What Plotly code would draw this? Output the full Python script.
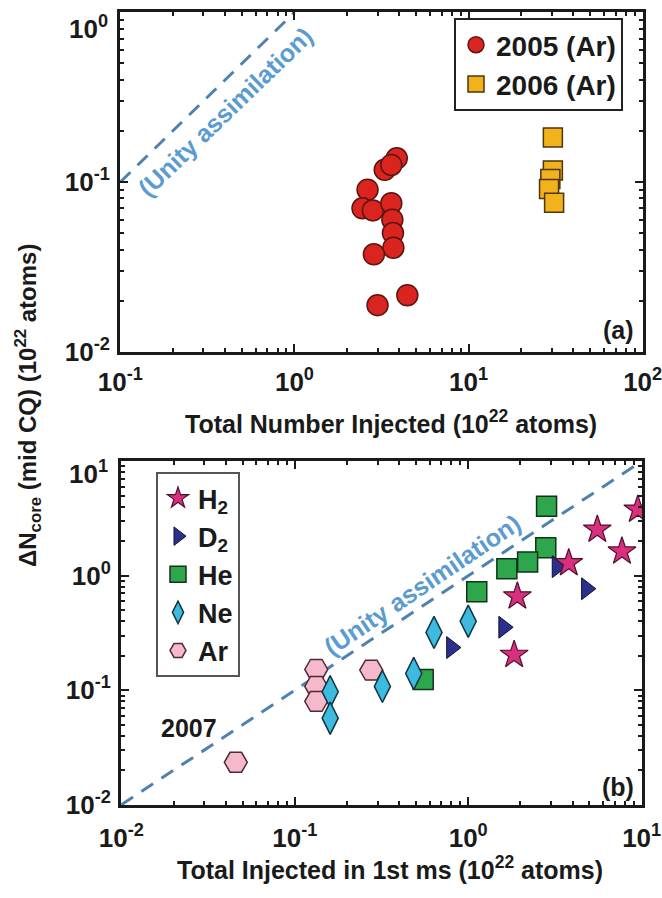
import plotly.graph_objects as go

# ---- data -------------------------------------------------------------
# (a) total number injected vs. core assimilation
ar2005_x = [3.87, 3.3, 3.6, 2.63, 2.46, 2.82, 3.6, 3.65, 3.68, 3.7, 2.86, 3.0, 4.45]
ar2005_y = [0.138, 0.118, 0.126, 0.090, 0.070, 0.068, 0.075, 0.060, 0.050, 0.041, 0.0375, 0.0188, 0.0215]
ar2006_x = [30.5, 30.5, 29.5, 29.0, 31.0]
ar2006_y = [0.183, 0.117, 0.104, 0.091, 0.0755]

# (b) injected in 1st ms vs. core assimilation (2007)
h2_x = [9.5, 5.55, 7.7, 3.8, 1.92, 1.84]
h2_y = [3.78, 2.53, 1.63, 1.29, 0.66, 0.204]
d2_x = [3.25, 4.8, 1.6, 0.80]
d2_y = [1.2, 0.77, 0.355, 0.236]
he_x = [2.83, 2.8, 2.2, 1.67, 1.12, 0.55]
he_y = [4.05, 1.76, 1.32, 1.15, 0.725, 0.124]
ne_x = [1.0, 0.635, 0.485, 0.32, 0.16, 0.16]
ne_y = [0.40, 0.32, 0.14, 0.108, 0.097, 0.057]
ar_x = [0.133, 0.133, 0.133, 0.276, 0.0457]
ar_y = [0.152, 0.108, 0.080, 0.15, 0.0235]

# unity-assimilation reference (delta N = N injected)
unity_a = [0.1, 1.0]
unity_b = [0.01, 9.0]

tick_a_x = [0.1, 1, 10, 100]
tick_a_x_text = ["10<sup>-1</sup>", "10<sup>0</sup>", "10<sup>1</sup>", "10<sup>2</sup>"]
tick_a_y = [0.01, 0.1, 1]
tick_a_y_text = ["10<sup>-2</sup>", "10<sup>-1</sup>", "10<sup>0</sup>"]
tick_b = [0.01, 0.1, 1, 10]
tick_b_text = ["10<sup>-2</sup>", "10<sup>-1</sup>", "10<sup>0</sup>", "10<sup>1</sup>"]

# ---- layout helpers ---------------------------------------------------
W, H = 662, 898
FONT = "Liberation Sans Narrow, Arial Narrow, Liberation Sans, Arial, sans-serif"
INK = "#1a1a1a"
UNITY_LINE = "#4f81b0"
UNITY_TEXT = "#5a9bd0"
EPS = 0.002  # keeps the edge decades inside the axis range


def px(x):
    return x / W


def py(y):
    return 1 - y / H


def minor_vals(lo, hi):
    vals = []
    for e in range(lo, hi):
        for m in range(2, 10):
            vals.append(m * 10.0 ** e)
    return vals


fig = go.Figure()

# ---- panel (a) --------------------------------------------------------
fig.add_trace(go.Scatter(
    x=unity_a, y=unity_a, mode="lines", xaxis="x", yaxis="y",
    line=dict(color=UNITY_LINE, width=3, dash="14px,10px"),
    showlegend=False, hoverinfo="skip"))
fig.add_trace(go.Scatter(
    x=ar2005_x, y=ar2005_y, mode="markers", name="2005 (Ar)",
    xaxis="x", yaxis="y", legend="legend",
    marker=dict(symbol="circle", size=21, color="#d9241f",
                line=dict(color="#5e1511", width=1.5))))
fig.add_trace(go.Scatter(
    x=ar2006_x, y=ar2006_y, mode="markers", name="2006 (Ar)",
    xaxis="x", yaxis="y", legend="legend",
    marker=dict(symbol="square", size=19, color="#f2b21e",
                line=dict(color="#4d3608", width=1.5))))

# ---- panel (b) --------------------------------------------------------
fig.add_trace(go.Scatter(
    x=unity_b, y=unity_b, mode="lines", xaxis="x2", yaxis="y2",
    line=dict(color=UNITY_LINE, width=3, dash="14px,10px"),
    showlegend=False, hoverinfo="skip"))
fig.add_trace(go.Scatter(
    x=ar_x, y=ar_y, mode="markers", name="Ar", legendrank=5,
    xaxis="x2", yaxis="y2", legend="legend2",
    marker=dict(symbol="hexagon2", size=23, color="#f6b9cb",
                line=dict(color="#4e2a36", width=1.5))))
fig.add_trace(go.Scatter(
    x=he_x, y=he_y, mode="markers", name="He", legendrank=3,
    xaxis="x2", yaxis="y2", legend="legend2",
    marker=dict(symbol="square", size=20, color="#2ea64b",
                line=dict(color="#0e3518", width=1.5))))
fig.add_trace(go.Scatter(
    x=ne_x, y=ne_y, mode="markers", name="Ne", legendrank=4,
    xaxis="x2", yaxis="y2", legend="legend2",
    marker=dict(symbol="diamond-tall", size=23, color="#3dbade",
                line=dict(color="#0c3442", width=1.5))))
fig.add_trace(go.Scatter(
    x=d2_x, y=d2_y, mode="markers", name="D<sub>2</sub>", legendrank=2,
    xaxis="x2", yaxis="y2", legend="legend2",
    marker=dict(symbol="triangle-right", size=19, color="#2c2f8c",
                line=dict(color="#111133", width=1))))
fig.add_trace(go.Scatter(
    x=h2_x, y=h2_y, mode="markers", name="H<sub>2</sub>", legendrank=1,
    xaxis="x2", yaxis="y2", legend="legend2",
    marker=dict(symbol="star", size=21, color="#d8307f",
                line=dict(color="#4f0f2c", width=1.2))))

tick_font = dict(family=FONT, size=26, color=INK, weight="bold")
axis_common = dict(
    type="log", showgrid=False, zeroline=False, automargin=False,
    showline=True, linecolor=INK, linewidth=3, mirror="ticks",
    ticks="inside", ticklen=8, tickwidth=2, tickcolor=INK,
    ticklabeloverflow="allow", tickfont=tick_font,
)
minor_common = dict(ticks="inside", ticklen=4, tickwidth=1.5, tickcolor=INK)

# the top decade label on each y axis sits a little below its tick,
# so it is drawn as a separate label further down
y_a_text = tick_a_y_text[:-1] + [""]
y_b_text = tick_b_text[:-1] + [""]

fig.update_layout(
    width=W, height=H,
    margin=dict(l=0, r=0, t=0, b=0),
    paper_bgcolor="white", plot_bgcolor="white",
    font=dict(family=FONT, color=INK, weight="bold"),
    xaxis=dict(**axis_common, domain=[px(120), px(643)], anchor="y",
               range=[-1 - EPS, 2 + EPS], tickmode="array", tickvals=tick_a_x,
               ticktext=tick_a_x_text, ticklabelstandoff=5,
               minor=dict(**minor_common, tickvals=minor_vals(-1, 2))),
    yaxis=dict(**axis_common, domain=[py(352), py(12)], anchor="x",
               range=[-2 - EPS, 0 + EPS], tickmode="array", tickvals=tick_a_y,
               ticktext=y_a_text, ticklabelstandoff=2,
               minor=dict(**minor_common, tickvals=minor_vals(-2, 0))),
    xaxis2=dict(**axis_common, domain=[px(121), px(642)], anchor="y2",
                range=[-2 - EPS, 1 + EPS], tickmode="array", tickvals=tick_b,
                ticktext=tick_b_text, ticklabelstandoff=8,
                minor=dict(**minor_common, tickvals=minor_vals(-2, 1))),
    yaxis2=dict(**axis_common, domain=[py(805), py(461)], anchor="x2",
                range=[-2 - EPS, 1 + EPS], tickmode="array", tickvals=tick_b,
                ticktext=y_b_text, ticklabelstandoff=2,
                minor=dict(**minor_common, tickvals=minor_vals(-2, 1))),
    legend=dict(x=px(454), y=py(18), xanchor="left", yanchor="top",
                bgcolor="white", bordercolor="#222", borderwidth=2,
                font=dict(family=FONT, size=28, color=INK, weight="bold"),
                itemsizing="trace"),
    legend2=dict(x=px(156), y=py(472), xanchor="left", yanchor="top",
                 bgcolor="white", bordercolor="#555", borderwidth=2,
                 font=dict(family=FONT, size=27, color=INK, weight="bold"),
                 itemsizing="trace", traceorder="normal"),
)

title_font = dict(family=FONT, size=25, color=INK, weight="bold")


def label(x, y, text, font=title_font, angle=0, xanchor="center"):
    return dict(x=px(x), y=py(y), xref="paper", yref="paper", text=text,
                xanchor=xanchor, yanchor="middle", textangle=angle,
                showarrow=False, font=font)


ann = [
    # top decade labels of the y axes
    label(110, 27, tick_a_y_text[-1], font=tick_font, xanchor="right"),
    label(110, 472, tick_b_text[-1], font=tick_font, xanchor="right"),
    # axis titles
    label(391, 422, "Total Number Injected (10<sup>22</sup> atoms)"),
    label(390, 868, "Total Injected in 1st ms (10<sup>22</sup> atoms)"),
    label(28, 406, "\u0394N<sub>core</sub> (mid CQ) (10<sup>22</sup> atoms)",
          font=dict(family=FONT, size=24, color=INK, weight="bold"), angle=-90),
    # panel tags
    label(618, 330, "(a)"),
    label(618, 787, "(b)"),
    label(189, 728, "2007"),
]
# unity-assimilation labels along the dashed lines
unity_font = dict(family=FONT, size=25, color=UNITY_TEXT, weight="bold")
ann.append(label(225, 112, "(Unity assimilation)", font=unity_font, angle=-44))
ann.append(label(422, 585, "(Unity assimilation)", font=unity_font, angle=-34))
fig.update_layout(annotations=ann)

fig.write_html("out.html")
